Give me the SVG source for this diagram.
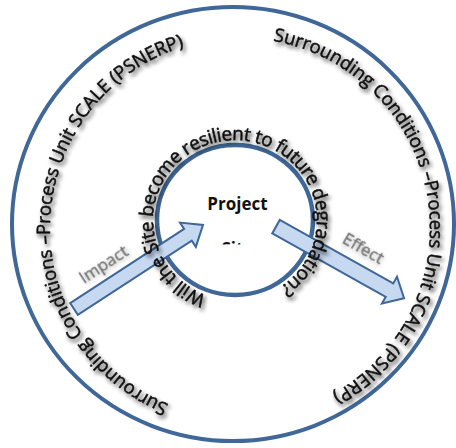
<svg xmlns="http://www.w3.org/2000/svg" xmlns:xlink="http://www.w3.org/1999/xlink" width="456" height="448" viewBox="0 0 456 448">
  <style>
    .ring { fill: #ffffff; stroke: #3F6797; }
    .curved { font-family: "Open Sans", "Liberation Sans", sans-serif; font-size: 18.5px; fill: #111111; stroke: #111111; stroke-width: 0.5; }
    .question { font-size: 19px; }
    .title { font-family: "Open Sans", "Liberation Sans", sans-serif; font-size: 17px; font-weight: bold; fill: #111111; text-anchor: middle; }
    .flow { fill: #C6D9F1; stroke: #3F6797; stroke-width: 2; stroke-linejoin: miter; }
    .flow-label { font-family: "Open Sans", "Liberation Sans", sans-serif; font-size: 17px; fill: #777777; stroke: #777777; stroke-width: 0.4; text-anchor: middle; }
  </style>
  <defs>
    <!-- soft drop shadow used under the curved captions -->
    <filter id="shadow" x="-20%" y="-20%" width="140%" height="140%">
      <feGaussianBlur in="SourceAlpha" stdDeviation="2.2"/>
      <feOffset dx="2" dy="3" result="off"/>
      <feComponentTransfer in="off" result="soft"><feFuncA type="linear" slope="0.75"/></feComponentTransfer>
      <feMerge><feMergeNode in="soft"/><feMergeNode in="SourceGraphic"/></feMerge>
    </filter>
    <!-- blurred grey look of the arrow labels -->
    <filter id="haze" x="-20%" y="-40%" width="140%" height="180%">
      <feGaussianBlur in="SourceGraphic" stdDeviation="0.6" result="b"/>
      <feGaussianBlur in="SourceAlpha" stdDeviation="2"/>
      <feOffset dx="1" dy="2"/>
      <feComponentTransfer result="s"><feFuncA type="linear" slope="0.25"/></feComponentTransfer>
      <feMerge><feMergeNode in="s"/><feMergeNode in="b"/></feMerge>
    </filter>
    <!-- baselines for the text on circles (clockwise) -->
    <path id="outerLeft" d="M168.8,404.2 A190,190 0 0 1 200.5,42.2"/>
    <path id="outerRight" d="M273.0,40.9 A190,190 0 0 1 305.0,406.5"/>
    <path id="innerRing" d="M206.6,295.2 A82,80 0 1 1 263.4,295.2"/>
    <clipPath id="siteCut"><rect x="200" y="236" width="80" height="8.5"/></clipPath>
  </defs>

  <!-- surrounding conditions ring -->
  <g id="surrounding">
    <ellipse class="ring" cx="233" cy="224" rx="221" ry="217" stroke-width="4"/>
    <text class="curved" filter="url(#shadow)"><textPath xlink:href="#outerLeft" textLength="467" lengthAdjust="spacing">Surrounding Conditions –Process Unit SCALE (PSNERP)</textPath></text>
    <text class="curved" filter="url(#shadow)"><textPath xlink:href="#outerRight" textLength="467" lengthAdjust="spacing">Surrounding Conditions –Process Unit SCALE (PSNERP)</textPath></text>
  </g>

  <!-- project site -->
  <g id="project-site">
    <ellipse class="ring" cx="235" cy="220" rx="78" ry="75" stroke-width="4.5"/>
    <text class="title" x="237.5" y="210">Project</text>
    <text class="title" x="237.5" y="255" clip-path="url(#siteCut)">Site</text>
  </g>

  <!-- impact / effect connectors -->
  <g id="connectors">
    <g id="impact">
      <polygon class="flow" transform="translate(74,309) rotate(-33.1)" points="0,-7 136,-7 136,-14.5 154,0 136,14.5 136,7 0,7"/>
      <text class="flow-label" filter="url(#haze)" transform="translate(104,265) rotate(-33)" y="5">Impact</text>
    </g>
    <g id="effect">
      <polygon class="flow" transform="translate(276,226.7) rotate(29.2)" points="0,-7.7 130,-7.7 130,-15.4 146.7,0 130,15.4 130,7.7 0,7.7"/>
      <text class="flow-label" filter="url(#haze)" transform="translate(363,249) rotate(30)" y="5">Effect</text>
    </g>
  </g>

  <!-- question around the site -->
  <g id="question">
    <text class="curved question" filter="url(#shadow)"><textPath xlink:href="#innerRing" textLength="432" lengthAdjust="spacing">Will the Site become resilient to future degradation?</textPath></text>
  </g>
</svg>
